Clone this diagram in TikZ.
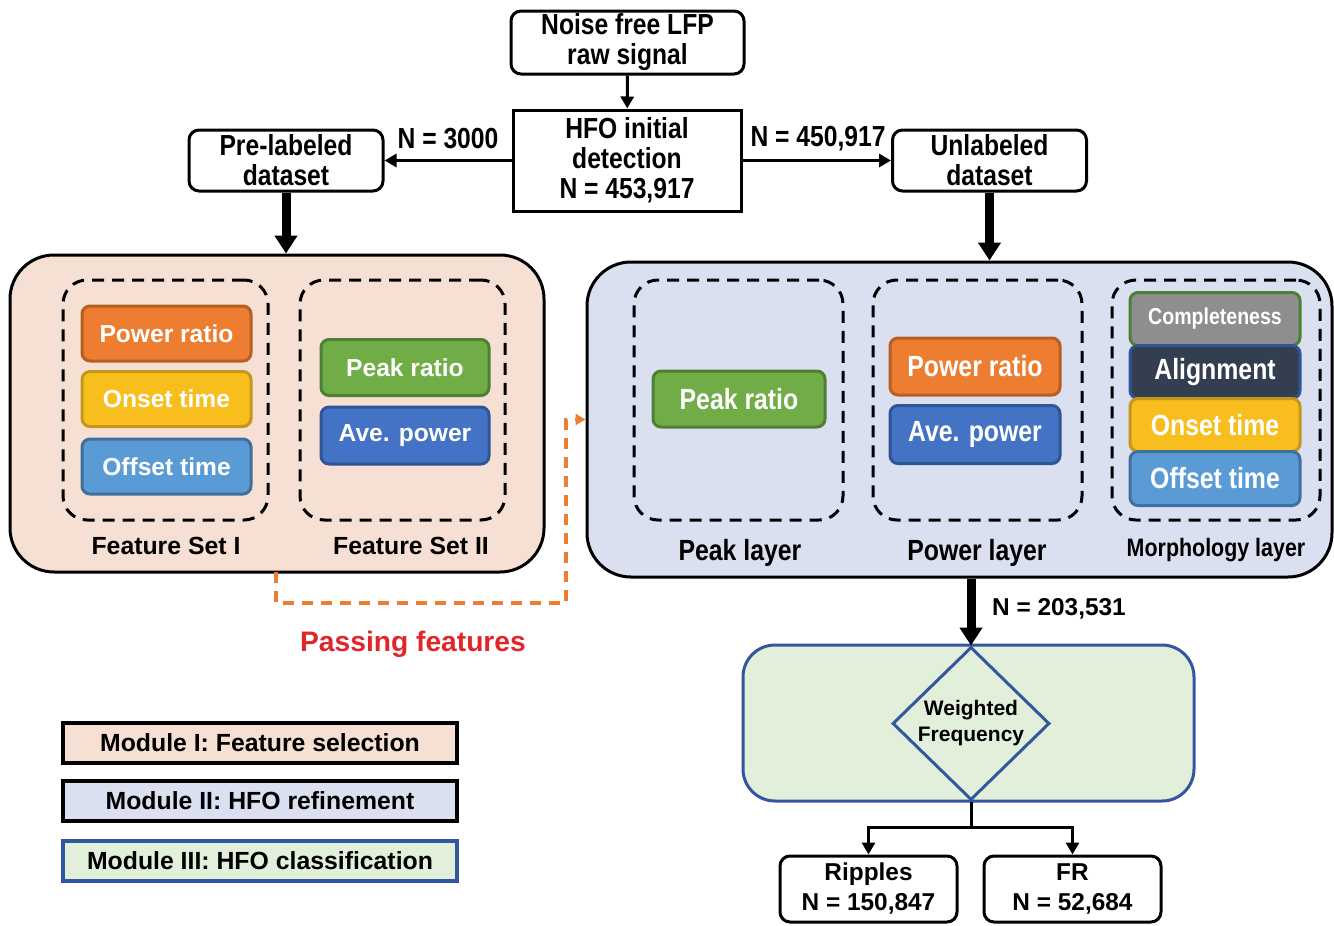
\documentclass[tikz,border=0pt]{standalone}
\usepackage{fontspec}
\setmainfont{Liberation Sans}
\newfontfamily\narrowfont{Liberation Sans}[FakeStretch=0.85]
\usepackage{tikz}
\usetikzlibrary{arrows.meta,shapes.geometric}

\definecolor{orangeF}{HTML}{ED7D31}
\definecolor{orangeB}{HTML}{B85E22}
\definecolor{yellowF}{HTML}{F8BE1E}
\definecolor{yellowB}{HTML}{C4961E}
\definecolor{skyF}{HTML}{5B9BD5}
\definecolor{skyB}{HTML}{3E6F9E}
\definecolor{greenF}{HTML}{70AD47}
\definecolor{greenB}{HTML}{4F7F33}
\definecolor{navyF}{HTML}{4472C4}
\definecolor{navyB}{HTML}{2F5597}
\definecolor{grayF}{HTML}{8E8E8E}
\definecolor{darkF}{HTML}{333F50}
\definecolor{modIfill}{HTML}{F6E0D3}
\definecolor{modIIfill}{HTML}{DAE0EF}
\definecolor{modIIIfill}{HTML}{E2EFDA}
\definecolor{modIIIline}{HTML}{3356A0}
\definecolor{passorange}{HTML}{ED7D31}
\definecolor{passred}{HTML}{E0262A}

\begin{document}
\begin{tikzpicture}[x=0.5pt,y=-0.5pt,
  flowbox/.style={draw,line width=1.5pt,rounded corners=5pt,align=center,inner sep=0pt,
    font=\narrowfont\bfseries\fontsize{14.5}{15}\selectfont,
    execute at begin node={\rule{0pt}{13.5pt}}},
  countlabel/.style={inner sep=0pt,font=\narrowfont\bfseries\fontsize{14.5}{15}\selectfont},
  module/.style={draw,line width=1.5pt,rounded corners=22pt,inner sep=0pt},
  group/.style={draw,line width=1.5pt,dash pattern=on 6pt off 4pt,rounded corners=12pt,inner sep=0pt},
  feat/.style 2 args={draw=#2,fill=#1,line width=1.5pt,rounded corners=4pt,text=white,inner sep=0pt,
    font=\bfseries\fontsize{12.3}{14}\selectfont},
  narrowfeat/.style={font=\narrowfont\bfseries\fontsize{14.6}{16}\selectfont},
  setlabel/.style={inner sep=0pt,font=\bfseries\fontsize{12.4}{14}\selectfont},
  layerlabel/.style={inner sep=0pt,font=\narrowfont\bfseries\fontsize{14.6}{16}\selectfont},
  legend/.style={draw,line width=2pt,inner sep=0pt,minimum width=197pt,minimum height=20pt,
    font=\bfseries\fontsize{12.4}{14}\selectfont},
  result/.style={draw,line width=1.5pt,rounded corners=5pt,align=center,inner sep=0pt,
    minimum width=88.5pt,minimum height=33pt,font=\bfseries\fontsize{12.2}{15}\selectfont,
    execute at begin node={\rule{0pt}{12.5pt}}},
  thinarrow/.style={line width=1.5pt,-{Triangle[length=6pt,width=6.5pt]}},
  bigarrow/.style={line width=4.5pt,-{Triangle[length=9pt,width=11pt]}},
  pass/.style={draw=passorange,line width=1.75pt,dash pattern=on 5.5pt off 4pt,
    -{Triangle[length=5pt,width=5.5pt]}}]
\useasboundingbox (0,0) rectangle (1334,926);

% detection stage
\node[flowbox,minimum width=116.5pt,minimum height=31.5pt] (lfp) at (627.5,42.5) {Noise free LFP\\raw signal};
\node[flowbox,rounded corners=0pt,minimum width=114pt,minimum height=50.5pt] (hfo) at (627,160.5) {HFO initial\\detection\\N = 453,917};
\node[flowbox,minimum width=97pt,minimum height=30.5pt] (pre) at (286,160.5) {Pre-labeled\\dataset};
\node[flowbox,minimum width=97pt,minimum height=30.5pt] (unl) at (989.5,160.5) {Unlabeled\\dataset};
\node[countlabel] (npre) at (448,139) {N = 3000};
\node[countlabel] (nunl) at (818,139) {N = 450,917};
\draw[thinarrow] (lfp) -- (hfo);
\draw[thinarrow] (hfo.west) -- (pre.east);
\draw[thinarrow] (hfo.east) -- (unl.west);

% module I
\node[module,fill=modIfill,minimum width=267pt,minimum height=158.5pt] (modI) at (277,413.5) {};
\node[group,minimum width=102.5pt,minimum height=120pt] (setI) at (165.5,400) {};
\node[group,minimum width=102.5pt,minimum height=120pt] (setII) at (402.5,400) {};
\node[feat={orangeF}{orangeB},minimum width=84.5pt,minimum height=27.5pt] (powI) at (166.5,333.5) {Power ratio};
\node[feat={yellowF}{yellowB},minimum width=84.5pt,minimum height=27.5pt] (onsI) at (166.5,399) {Onset time};
\node[feat={skyF}{skyB},minimum width=84.5pt,minimum height=27.5pt] (offI) at (166.5,466.5) {Offset time};
\node[feat={greenF}{greenB},minimum width=84pt,minimum height=28pt] (peakI) at (405,367.5) {Peak ratio};
\node[feat={navyF}{navyB},minimum width=84pt,minimum height=28.5pt] (aveI) at (405,435.5) {Ave. power};
\node[setlabel] (setIlab) at (166,546) {Feature Set I};
\node[setlabel] (setIIlab) at (411,546) {Feature Set II};

% module II
\node[module,fill=modIIfill,minimum width=372.5pt,minimum height=157.5pt] (modII) at (959.5,419.5) {};
\node[group,minimum width=104.5pt,minimum height=120pt] (peaklay) at (738.5,400) {};
\node[group,minimum width=104.5pt,minimum height=120pt] (powlay) at (977.5,400) {};
\node[group,minimum width=104pt,minimum height=120pt] (morphlay) at (1216,400) {};
\node[feat={greenF}{greenB},narrowfeat,minimum width=86pt,minimum height=28pt] (peakII) at (739,399) {Peak ratio};
\node[feat={orangeF}{orangeB},narrowfeat,minimum width=85pt,minimum height=28.5pt] (powII) at (975,366.5) {Power ratio};
\node[feat={navyF}{navyB},narrowfeat,minimum width=85pt,minimum height=29pt] (aveII) at (975,434.5) {Ave. power};
\node[feat={grayF}{greenB},narrowfeat,font=\narrowfont\bfseries\fontsize{11.5}{13}\selectfont,minimum width=85pt,minimum height=26.5pt] (compl) at (1215,319) {Completeness};
\node[feat={darkF}{navyB},narrowfeat,minimum width=85pt,minimum height=26.5pt] (align) at (1215,372) {Alignment};
\node[feat={yellowF}{yellowB},narrowfeat,minimum width=85pt,minimum height=26.5pt] (onsII) at (1215,425) {Onset time};
\node[feat={skyF}{skyB},narrowfeat,minimum width=85pt,minimum height=27pt] (offII) at (1215,478.5) {Offset time};
\node[layerlabel] (peaklab) at (740,553) {Peak layer};
\node[layerlabel] (powlab) at (977,553) {Power layer};
\node[layerlabel,font=\narrowfont\bfseries\fontsize{12.6}{14}\selectfont] (morphlab) at (1216,550) {Morphology layer};

\draw[bigarrow] (pre.south) -- (pre.south |- modI.north);
\draw[bigarrow] (unl.south) -- (unl.south |- modII.north);

% passing features
\coordinate (passstart) at (276,572);
\coordinate (passturn) at (566,603);
\draw[pass] (passstart) |- (passturn) |- (modII.west);
\node[inner sep=0pt,text=passred,font=\bfseries\fontsize{14.1}{16}\selectfont] (passlab) at (413,644) {Passing features};

% module III
\node[module,draw=modIIIline,fill=modIIIfill,rounded corners=16pt,minimum width=225.5pt,minimum height=78pt] (modIII) at (968.5,723) {};
\node[diamond,draw=modIIIline,fill=modIIIfill,line width=1.5pt,aspect=1,inner sep=0pt,
  minimum width=78.5pt,minimum height=76.5pt,align=center,
  font=\bfseries\fontsize{10.5}{13}\selectfont] (weight) at (971,723.5) {Weighted\\Frequency};
\draw[bigarrow] (weight.north |- modII.south) -- (weight.north);
\node[inner sep=0pt,font=\bfseries\fontsize{12.2}{14}\selectfont] (nref) at (1059,609) {N = 203,531};
\node[result] (rip) at (868.5,889) {Ripples\\N = 150,847};
\node[result] (fr) at (1072.5,889) {FR\\N = 52,684};
\draw[thinarrow] (weight.south) -- ++(0,26) coordinate (split) -| (rip.north);
\draw[thinarrow] (split) -| (fr.north);

% legend
\node[legend,fill=modIfill] (legI) at (260,743) {Module I: Feature selection};
\node[legend,fill=modIIfill] (legII) at (260,801) {Module II: HFO refinement};
\node[legend,fill=modIIIfill,draw=modIIIline] (legIII) at (260,861) {Module III: HFO classification};
\end{tikzpicture}
\end{document}
